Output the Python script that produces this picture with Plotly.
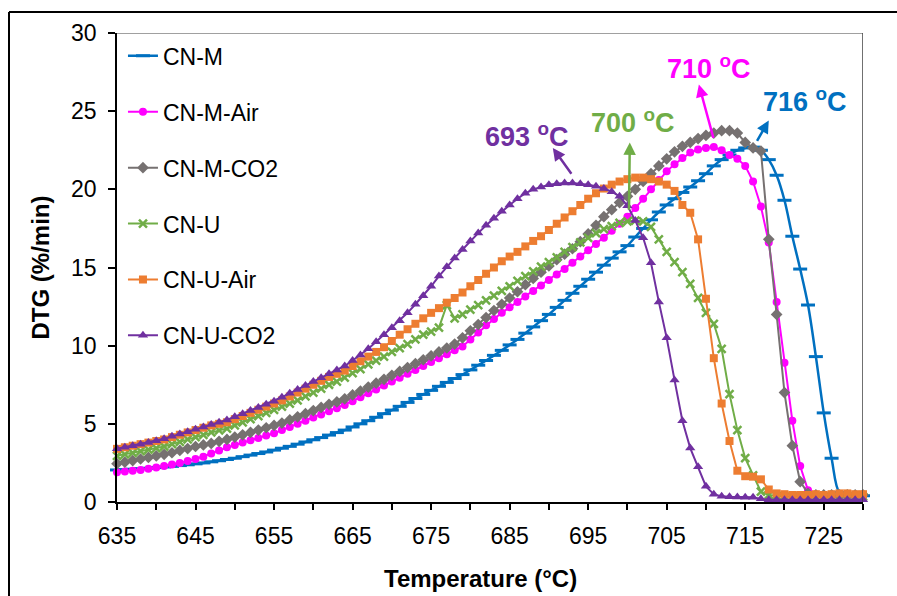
import plotly.graph_objects as go

# Temperature grid (°C) shared by all DTG curves
temperature = list(range(635, 731))

cn_m = [2.05, 2.07, 2.1, 2.13, 2.16, 2.2, 2.24, 2.28, 2.33, 2.38,
        2.44, 2.5, 2.57, 2.64, 2.72, 2.8, 2.9, 3.0, 3.1, 3.2,
        3.32, 3.44, 3.56, 3.7, 3.84, 3.98, 4.12, 4.28, 4.44, 4.6,
        4.8, 5.0, 5.2, 5.42, 5.65, 5.88, 6.12, 6.37, 6.62, 6.88,
        7.14, 7.4, 7.65, 7.9, 8.15, 8.45, 8.75, 9.05, 9.38, 9.7,
        10.05, 10.4, 10.8, 11.2, 11.6, 12.0, 12.45, 12.9, 13.35, 13.8,
        14.25, 14.7, 15.15, 15.6, 16.0, 16.4, 16.95, 17.5, 18.05, 18.55,
        19.0, 19.4, 19.8, 20.15, 20.55, 21.0, 21.5, 21.9, 22.2, 22.5,
        22.65, 22.7, 22.5, 21.9, 20.9, 19.3, 17.0, 14.9, 12.6, 9.3,
        5.7, 2.8, 0.6, 0.4, 0.4, 0.4]

cn_m_air = [1.9, 1.95, 2.0, 2.05, 2.12, 2.2, 2.3, 2.4, 2.5, 2.62,
            2.75, 2.9, 3.1, 3.3, 3.5, 3.65, 3.8, 3.95, 4.1, 4.25,
            4.4, 4.6, 4.8, 5.0, 5.2, 5.4, 5.6, 5.8, 6.0, 6.2,
            6.45, 6.7, 6.95, 7.2, 7.45, 7.7, 7.95, 8.2, 8.45, 8.7,
            8.95, 9.2, 9.45, 9.7, 9.95, 10.4, 10.85, 11.3, 11.7, 12.1,
            12.45, 12.8, 13.15, 13.5, 13.85, 14.2, 14.55, 14.9, 15.3, 15.7,
            16.1, 16.5, 16.9, 17.35, 17.8, 18.25, 18.8, 19.4, 20.0, 20.6,
            21.15, 21.6, 22.0, 22.35, 22.55, 22.65, 22.7, 22.5, 22.2, 21.95,
            21.5, 20.5, 18.9, 16.6, 12.8, 8.9, 5.2, 2.3, 0.75, 0.4,
            0.35, 0.3, 0.3, 0.3, 0.3, 0.3]

cn_m_co2 = [2.45, 2.55, 2.65, 2.75, 2.85, 2.95, 3.05, 3.15, 3.3, 3.42,
            3.55, 3.65, 3.75, 3.88, 4.0, 4.15, 4.3, 4.45, 4.6, 4.75,
            4.9, 5.05, 5.25, 5.45, 5.65, 5.85, 6.05, 6.25, 6.4, 6.6,
            6.85, 7.1, 7.35, 7.6, 7.85, 8.1, 8.35, 8.6, 8.85, 9.1,
            9.35, 9.6, 9.85, 10.1, 10.5, 10.95, 11.35, 11.8, 12.25, 12.65,
            13.05, 13.45, 13.9, 14.3, 14.7, 15.1, 15.5, 15.85, 16.2, 16.65,
            17.15, 17.7, 18.25, 18.7, 19.15, 19.55, 20.0, 20.5, 21.0, 21.5,
            21.95, 22.4, 22.75, 23.0, 23.25, 23.45, 23.6, 23.75, 23.75, 23.6,
            23.0, 22.65, 22.45, 16.8, 12.0, 7.0, 3.6, 1.3, 0.55, 0.45,
            0.45, 0.45, 0.45, 0.45, 0.45, 0.45]

cn_u = [2.95, 3.05, 3.15, 3.25, 3.35, 3.45, 3.55, 3.7, 3.85, 4.0,
        4.15, 4.3, 4.45, 4.58, 4.7, 4.9, 5.1, 5.3, 5.5, 5.7,
        5.9, 6.1, 6.3, 6.5, 6.75, 7.0, 7.25, 7.5, 7.7, 7.95,
        8.25, 8.5, 8.8, 9.05, 9.3, 9.6, 9.85, 10.1, 10.4, 10.7,
        10.9, 11.15, 12.6, 11.75, 12.0, 12.3, 12.6, 12.9, 13.2, 13.5,
        13.8, 14.15, 14.45, 14.75, 15.05, 15.35, 15.65, 16.0, 16.3, 16.6,
        16.9, 17.2, 17.45, 17.65, 17.85, 17.95, 18.0, 17.95, 17.6, 16.8,
        16.0, 15.35, 14.7, 13.95, 13.05, 12.1, 11.4, 9.8, 6.9, 4.6,
        2.8, 1.7, 0.66, 0.45, 0.4, 0.35, 0.35, 0.35, 0.35, 0.35,
        0.35, 0.35, 0.35, 0.35, 0.35, 0.35]

cn_u_air = [3.4, 3.5, 3.6, 3.7, 3.8, 3.9, 4.0, 4.15, 4.3, 4.45,
            4.6, 4.75, 4.9, 5.0, 5.1, 5.3, 5.5, 5.7, 5.9, 6.1,
            6.3, 6.5, 6.75, 7.0, 7.25, 7.5, 7.75, 8.0, 8.2, 8.4,
            8.7, 9.0, 9.3, 9.6, 9.9, 10.3, 10.7, 11.05, 11.4, 11.75,
            12.1, 12.4, 12.75, 13.05, 13.4, 13.8, 14.2, 14.6, 15.0, 15.4,
            15.7, 16.0, 16.35, 16.7, 17.0, 17.4, 17.8, 18.2, 18.6, 19.0,
            19.4, 19.75, 20.05, 20.3, 20.5, 20.65, 20.75, 20.75, 20.65, 20.5,
            20.3, 19.9, 19.0, 18.5, 16.8, 13.0, 9.2, 6.3, 3.9, 2.0,
            1.65, 1.62, 1.45, 0.8, 0.55, 0.5, 0.45, 0.45, 0.45, 0.5,
            0.45, 0.5, 0.55, 0.55, 0.5, 0.5]

cn_u_co2 = [3.4, 3.5, 3.6, 3.7, 3.8, 3.92, 4.05, 4.2, 4.35, 4.5,
            4.65, 4.8, 4.95, 5.1, 5.25, 5.45, 5.65, 5.85, 6.05, 6.25,
            6.45, 6.7, 6.95, 7.2, 7.45, 7.7, 7.95, 8.2, 8.45, 8.7,
            9.05, 9.4, 9.8, 10.25, 10.7, 11.15, 11.6, 12.1, 12.65, 13.2,
            13.8, 14.45, 15.05, 15.6, 16.15, 16.7, 17.2, 17.7, 18.15, 18.6,
            19.0, 19.4, 19.75, 20.0, 20.15, 20.3, 20.35, 20.4, 20.4, 20.35,
            20.3, 20.2, 20.05, 19.85, 19.55, 18.95, 18.0, 16.9, 15.3, 12.8,
            10.5, 7.8, 5.2, 3.45, 2.25, 1.0, 0.5, 0.36, 0.33, 0.32,
            0.3, 0.3, 0.2, 0.15, 0.15, 0.15, 0.15, 0.15, 0.15, 0.15,
            0.15, 0.15, 0.15, 0.15, 0.15, 0.15]

series_names = ["CN-M", "CN-M-Air", "CN-M-CO2", "CN-U", "CN-U-Air", "CN-U-CO2"]
series_values = [cn_m, cn_m_air, cn_m_co2, cn_u, cn_u_air, cn_u_co2]

# Peak temperatures called out on the chart
peak_labels = ["693", "700", "710", "716"]

x_tick_vals = list(range(635, 726, 10))
x_tick_text = ["635", "645", "655", "665", "675", "685", "695", "705", "715", "725"]
x_minor_vals = list(range(640, 731, 10))
y_tick_vals = [0, 5, 10, 15, 20, 25, 30]

FONT = "Liberation Sans, Arial, sans-serif"
BLUE = "#0070C0"
MAGENTA = "#FF00FF"
GRAY = "#767171"
GREEN = "#70AD47"
ORANGE = "#ED7D31"
PURPLE = "#7030A0"

styles = [
    dict(line=dict(color=BLUE, width=2.5, shape="spline"),
         marker=dict(symbol="line-ew", size=10, line=dict(color=BLUE, width=3))),
    dict(line=dict(color=MAGENTA, width=2),
         marker=dict(symbol="circle", size=8, color=MAGENTA)),
    dict(line=dict(color=GRAY, width=2),
         marker=dict(symbol="diamond", size=9, color=GRAY)),
    dict(line=dict(color=GREEN, width=2),
         marker=dict(symbol="x-thin", size=8, line=dict(color=GREEN, width=2.5))),
    dict(line=dict(color=ORANGE, width=2),
         marker=dict(symbol="square", size=8, color=ORANGE)),
    dict(line=dict(color=PURPLE, width=2),
         marker=dict(symbol="triangle-up", size=9, color=PURPLE)),
]

fig = go.Figure()
for name, vals, st in zip(series_names, series_values, styles):
    fig.add_trace(go.Scatter(
        x=temperature, y=vals, name=name, mode="lines+markers",
        line=st["line"], marker=st["marker"], legendgroup=name,
        cliponaxis=False,
    ))

# Peak call-outs: label text plus an arrow pointing from the curve to the label
callouts = [
    # text, colour, text position, arrow tip, arrow tail
    (peak_labels[0], PURPLE, (687.2, 23.5), (690.5, 22.65), (693.0, 20.9)),
    (peak_labels[1], GREEN, (700.7, 24.4), (700.3, 23.0), (700.2, 18.6)),
    (peak_labels[2], MAGENTA, (710.4, 27.8), (709.1, 26.7), (711.0, 23.2)),
    (peak_labels[3], BLUE, (722.6, 25.7), (718.0, 24.4), (716.4, 23.0)),
]
for label, col, (tx, ty), (hx, hy), (sx, sy) in callouts:
    fig.add_annotation(x=tx, y=ty, xref="x", yref="y", showarrow=False,
                       xanchor="center", yanchor="middle",
                       text=f"<b>{label} <sup>o</sup>C</b>",
                       font=dict(family=FONT, size=27, color=col))
    fig.add_annotation(x=hx, y=hy, ax=sx, ay=sy, xref="x", yref="y",
                       axref="x", ayref="y", text="", showarrow=True,
                       arrowhead=2, arrowsize=1, arrowwidth=2.5,
                       arrowcolor=col, standoff=0, startstandoff=0)

# Axis titles
fig.add_annotation(x=(480 - 117) / 746, y=-(578 - 502) / 469,
                   xref="paper", yref="paper", xanchor="center", yanchor="middle",
                   text="<b>Temperature (°C)</b>", showarrow=False,
                   font=dict(family=FONT, size=24, color="black"))
fig.add_annotation(x=(40 - 117) / 746, y=0.5, xref="paper", yref="paper",
                   xanchor="center", yanchor="middle",
                   text="<b>DTG (%/min)</b>", showarrow=False, textangle=-90,
                   font=dict(family=FONT, size=24, color="black"))

# Plot-area frame (top and right) and the outer chart border
fig.add_shape(type="line", xref="x", yref="y", x0=635, x1=730, y0=30, y1=30,
              line=dict(color="#808080", width=1.5))
fig.add_shape(type="line", xref="x", yref="y", x0=730, x1=730, y0=0, y1=30,
              line=dict(color="#404040", width=1.5))
fig.add_shape(type="line", xref="paper", yref="paper",
              x0=(9 - 117) / 746, x1=1.2, y0=(502 - 12) / 469, y1=(502 - 12) / 469,
              line=dict(color="black", width=2))
fig.add_shape(type="line", xref="paper", yref="paper",
              x0=(9 - 117) / 746, x1=(9 - 117) / 746, y0=-0.3, y1=(502 - 12) / 469,
              line=dict(color="black", width=2))

fig.update_layout(
    width=897, height=596,
    margin=dict(l=117, r=34, t=33, b=94),
    paper_bgcolor="white", plot_bgcolor="white",
    font=dict(family=FONT, color="black"),
    showlegend=True,
    legend=dict(x=0.008, y=0.997, xanchor="left", yanchor="top",
                bgcolor="rgba(0,0,0,0)", borderwidth=0,
                font=dict(family=FONT, size=23, color="black"),
                tracegroupgap=23, itemwidth=30),
    xaxis=dict(range=[635, 730], tickvals=x_tick_vals, ticktext=x_tick_text,
               ticks="outside", ticklen=6, tickwidth=1.5, tickcolor="black",
               minor=dict(tickvals=x_minor_vals, ticks="outside", ticklen=6,
                          tickwidth=1.5, tickcolor="black", showgrid=False),
               showline=True, linecolor="black", linewidth=1.5,
               showgrid=False, zeroline=False, ticklabelstandoff=7,
               tickfont=dict(family=FONT, size=23, color="black")),
    yaxis=dict(range=[0, 30], tickvals=y_tick_vals,
               ticks="outside", ticklen=7, tickwidth=1.5, tickcolor="black",
               showline=True, linecolor="black", linewidth=1.5,
               showgrid=False, zeroline=False, ticklabelstandoff=7,
               tickfont=dict(family=FONT, size=23, color="black")),
)

fig.write_html("out.html")
